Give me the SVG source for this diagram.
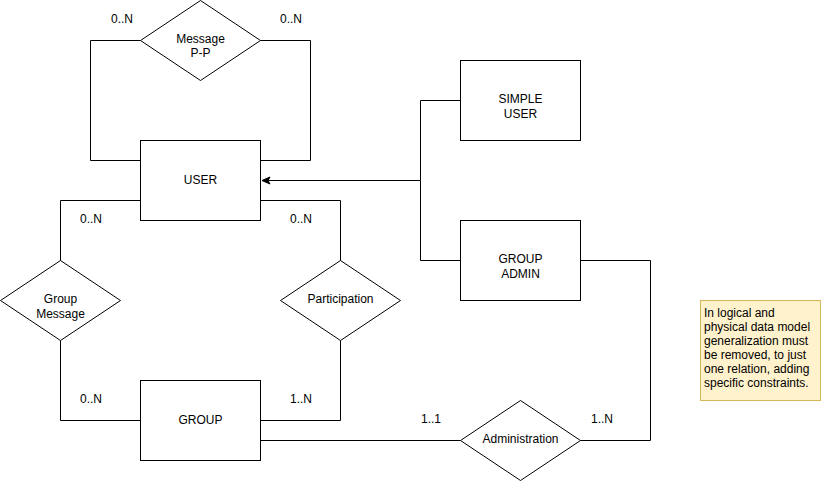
<svg xmlns="http://www.w3.org/2000/svg" width="821" height="481" viewBox="0 0 821 481">
<style>
.s{fill:#fff;stroke:#000;stroke-width:1}
.c{fill:none;stroke:#000;stroke-width:1}
text{font-family:"Liberation Sans",Arial,sans-serif;font-size:12px;fill:#000}
.m{text-anchor:middle}
</style>
<defs>
<marker id="a" markerWidth="10" markerHeight="10" refX="9" refY="5" orient="auto" markerUnits="userSpaceOnUse">
<path d="M1,1.5 L9,5 L1,8.5 L3,5 Z" fill="#000" stroke="#000"/>
</marker>
</defs>
<rect width="821" height="481" fill="#fff"/>
<g id="connectors">
<polyline class="c" points="140.5,40.5 90.5,40.5 90.5,160.5 140.5,160.5"/>
<polyline class="c" points="260.5,40.5 310.5,40.5 310.5,160.5 260.5,160.5"/>
<polyline class="c" points="140.5,200.5 60.5,200.5 60.5,260.5"/>
<polyline class="c" points="60.5,340.5 60.5,420.5 140.5,420.5"/>
<polyline class="c" points="260.5,200.5 340.5,200.5 340.5,260.5"/>
<polyline class="c" points="340.5,340.5 340.5,420.5 260.5,420.5"/>
<polyline class="c" points="260.5,440.5 460.5,440.5"/>
<polyline class="c" points="580.5,440.5 650.5,440.5 650.5,260.5 580.5,260.5"/>
<polyline class="c" points="460.5,100.5 420.5,100.5 420.5,180.5 262,180.5" marker-end="url(#a)"/>
<polyline class="c" points="460.5,260.5 420.5,260.5 420.5,180.5"/>
<text x="111" y="23">0..N</text>
<text x="280" y="23">0..N</text>
<text x="80" y="223">0..N</text>
<text x="290" y="223">0..N</text>
<text x="80" y="403">0..N</text>
<text x="290" y="403">1..N</text>
<text x="421" y="423">1..1</text>
<text x="591" y="423">1..N</text>
</g>
<g id="msgpp">
<polygon class="s" points="200.5,0.5 260.5,40.5 200.5,80.5 140.5,40.5"/>
<text class="m" x="200.5" y="43">Message</text>
<text class="m" x="200.5" y="57">P-P</text>
</g>
<g id="user">
<rect class="s" x="140.5" y="140.5" width="120" height="80"/>
<text class="m" x="200.5" y="184">USER</text>
</g>
<g id="groupmsg">
<polygon class="s" points="60.5,260.5 120.5,300.5 60.5,340.5 0.5,300.5"/>
<text class="m" x="60.5" y="303">Group</text>
<text class="m" x="60.5" y="318">Message</text>
</g>
<g id="participation">
<polygon class="s" points="340.5,260.5 400.5,300.5 340.5,340.5 280.5,300.5"/>
<text class="m" x="340.5" y="303">Participation</text>
</g>
<g id="group">
<rect class="s" x="140.5" y="380.5" width="120" height="80"/>
<text class="m" x="200.5" y="424">GROUP</text>
</g>
<g id="administration">
<polygon class="s" points="520.5,400.5 580.5,440.5 520.5,480.5 460.5,440.5"/>
<text class="m" x="520.5" y="443">Administration</text>
</g>
<g id="simpleuser">
<rect class="s" x="460.5" y="60.5" width="120" height="80"/>
<text class="m" x="520.5" y="103">SIMPLE</text>
<text class="m" x="520.5" y="118">USER</text>
</g>
<g id="groupadmin">
<rect class="s" x="460.5" y="220.5" width="120" height="80"/>
<text class="m" x="520.5" y="263">GROUP</text>
<text class="m" x="520.5" y="278">ADMIN</text>
</g>
<g id="note">
<rect x="700.5" y="300.5" width="120" height="100" fill="#fff2cc" stroke="#d6b656"/>
<text x="704" y="317">In logical and</text>
<text x="704" y="331">physical data model</text>
<text x="704" y="345">generalization must</text>
<text x="704" y="359">be removed, to just</text>
<text x="704" y="373">one relation, adding</text>
<text x="704" y="387">specific constraints.</text>
</g>
</svg>
